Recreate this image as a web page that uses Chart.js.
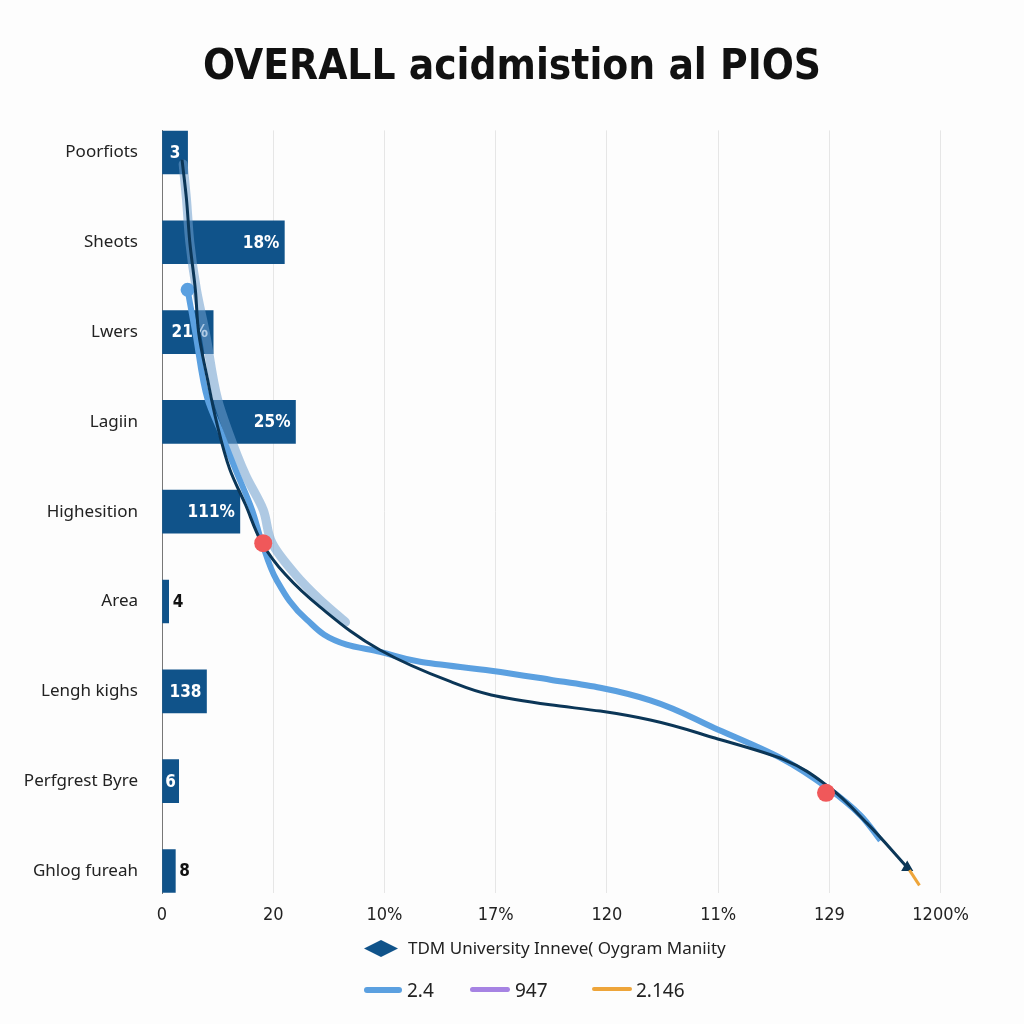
<!DOCTYPE html>
<html>
<head>
<meta charset="utf-8">
<script src="https://cdn.jsdelivr.net/npm/chart.js@4.4.0/dist/chart.umd.min.js"></script>
<style>
  body { margin: 0; background: #fdfdfd; }
  #wrap { position: relative; width: 1024px; height: 1024px; }
  #legend { position: absolute; left: 0; top: 0; width: 1024px; height: 1024px; pointer-events: none;
            font-family: 'Noto Sans', sans-serif; color: #222; }
  #legend span, #legend i { position: absolute; display: block; }
</style>
</head>
<body>
<div id="wrap">
  <canvas id="myChart" width="1024" height="1024"></canvas>
  <div id="legend"></div>
</div>
<script>
var titleText = 'OVERALL acidmistion al PIOS';
var categories = ['Poorfiots', 'Sheots', 'Lwers', 'Lagiin', 'Highesition', 'Area', 'Lengh kighs', 'Perfgrest Byre', 'Ghlog fureah'];
var barValues = [0.23, 1.1, 0.46, 1.2, 0.7, 0.06, 0.4, 0.15, 0.12];
var barLabels = ['3', '18%', '21%', '25%', '111%', '4', '138', '6', '8'];
var xTickLabels = ['0', '20', '10%', '17%', '120', '11%', '129', '1200%'];
var legendNames = ['TDM University Inneve( Oygram Maniity', '2.4', '947', '2.146'];

// curves, in axis units (x along the value axis, y along the row index)
var paleX = [0.19, 0.22, 0.25, 0.31, 0.39, 0.5, 0.59, 0.75, 0.91, 0.99, 1.2, 1.42, 1.65];
var paleY = [0.13, 0.52, 1.0, 1.53, 2.01, 2.75, 3.09, 3.59, 3.98, 4.35, 4.7, 4.98, 5.23];
var brightX = [0.23, 0.3, 0.41, 0.52, 0.66, 0.81, 0.9, 1.03, 1.3, 1.66, 1.96, 2.32, 2.96, 3.49, 3.94, 4.39, 4.97, 5.56, 5.99, 6.28, 6.46];
var brightY = [1.53, 2.01, 2.75, 3.09, 3.53, 3.98, 4.35, 4.76, 5.2, 5.48, 5.56, 5.67, 5.77, 5.87, 5.96, 6.1, 6.41, 6.74, 7.08, 7.38, 7.66];
var darkX = [0.18, 0.22, 0.25, 0.3, 0.33, 0.41, 0.49, 0.61, 0.75, 0.9, 1.11, 1.42, 1.96, 2.59, 2.96, 3.49, 3.94, 4.39, 4.97, 5.59, 5.99, 6.34, 6.7];
var darkY = [0.08, 0.52, 1.0, 1.53, 2.01, 2.53, 3.0, 3.53, 3.92, 4.35, 4.7, 5.06, 5.54, 5.89, 6.04, 6.15, 6.22, 6.32, 6.52, 6.76, 7.06, 7.47, 7.96];
var orangeX = [6.72, 6.81];
var orangeY = [7.99, 8.16];
var dotX = [0.91, 5.97];
var dotY = [4.35, 7.13];

function pts(xs, ys) {
    return xs.map(function (x, i) { return { x: x, y: ys[i] }; });
}

var labelPlugin = {
    id: 'barLabels',
    afterDatasetDraw: function (chart, args) {
        if (args.index !== 0) return;
        var c = chart.ctx;
        c.save();
        c.font = 'bold 17px "DejaVu Sans Condensed", Roboto, sans-serif';
        c.textBaseline = 'middle';
        args.meta.data.forEach(function (bar, i) {
            var t = barLabels[i];
            var w = c.measureText(t).width;
            var bw = bar.x - bar.base;
            if (w + 4 > bw) {
                c.fillStyle = '#111';
                c.textAlign = 'left';
                c.fillText(t, bar.x + 4, bar.y + 1);
            } else if (bw < 40) {
                c.fillStyle = '#fff';
                c.textAlign = 'center';
                c.fillText(t, (bar.x + bar.base) / 2, bar.y + 1);
            } else {
                c.fillStyle = '#fff';
                c.textAlign = 'right';
                c.fillText(t, bar.x - 5, bar.y + 1);
            }
        });
        c.restore();
    }
};

window.onload = function () {
    graficos();
    legenda();
}

function graficos() {
    var ctx = document.getElementById('myChart');

    var myChart = new Chart(ctx, {
        type: 'bar',
        data: {
            datasets: [{
                type: 'bar',
                label: legendNames[0],
                data: barValues.map(function (v, i) { return { x: v, y: i }; }),
                backgroundColor: '#10538a',
                barThickness: 43,
                indexAxis: 'y',
                order: 10
            }, {
                type: 'scatter',
                label: 'pale',
                data: pts(paleX, paleY),
                showLine: true,
                borderColor: 'rgba(110, 158, 205, 0.55)',
                borderWidth: 9,
                borderCapStyle: 'round',
                cubicInterpolationMode: 'monotone',
                pointRadius: 0,
                order: 4
            }, {
                type: 'scatter',
                label: legendNames[1],
                data: pts(brightX, brightY),
                showLine: true,
                borderColor: '#5ba0e0',
                backgroundColor: '#5ba0e0',
                borderWidth: 6,
                cubicInterpolationMode: 'monotone',
                pointRadius: function (c) { return c.dataIndex === 0 ? 4 : 0; },
                order: 3
            }, {
                type: 'scatter',
                label: 'dark',
                data: pts(darkX, darkY),
                showLine: true,
                borderColor: '#0b3657',
                backgroundColor: '#0b3657',
                borderWidth: 3,
                cubicInterpolationMode: 'monotone',
                pointRadius: function (c) { return c.dataIndex === darkX.length - 1 ? 4 : 0; },
                pointStyle: 'triangle',
                order: 2
            }, {
                type: 'scatter',
                label: legendNames[3],
                data: pts(orangeX, orangeY),
                showLine: true,
                borderColor: '#eea53a',
                borderWidth: 3,
                pointRadius: 0,
                order: 1
            }, {
                type: 'scatter',
                label: 'dots',
                data: pts(dotX, dotY),
                backgroundColor: '#f0585a',
                borderWidth: 0,
                pointRadius: 9,
                order: 0
            }]
        },
        options: {
            responsive: false,
            animation: false,
            indexAxis: 'y',
            layout: { padding: 0 },
            plugins: {
                legend: { display: false },
                tooltip: { enabled: false },
                title: {
                    display: true,
                    text: titleText,
                    color: '#111',
                    font: { family: '"DejaVu Sans Condensed", "DejaVu Sans", sans-serif', size: 42, weight: 'bold', lineHeight: 1.2 },
                    padding: { top: 43, bottom: 37 }
                }
            },
            scales: {
                x: {
                    type: 'linear',
                    min: 0,
                    max: 7.66,
                    offset: false,
                    afterFit: function (s) { s.height = 131; },
                    afterBuildTicks: function (s) {
                        s.ticks = xTickLabels.map(function (t, i) { return { value: i }; });
                    },
                    border: { display: false },
                    grid: { color: '#e6e6e6', drawTicks: false },
                    ticks: {
                        padding: 12,
                        color: '#222',
                        font: { family: '"DejaVu Sans Condensed", "Noto Sans", sans-serif', size: 18 },
                        callback: function (v) { return xTickLabels[v]; }
                    }
                },
                y: {
                    type: 'linear',
                    reverse: true,
                    offset: false,
                    min: -0.245,
                    max: 8.245,
                    afterFit: function (s) { s.width = 162; },
                    afterBuildTicks: function (s) {
                        s.ticks = categories.map(function (c, i) { return { value: i }; });
                    },
                    border: { display: true, color: '#777', width: 1 },
                    grid: { display: false, drawTicks: false },
                    ticks: {
                        padding: 24,
                        color: '#222',
                        font: { family: '"Noto Sans", sans-serif', size: 17 },
                        callback: function (v) { return categories[v]; }
                    }
                }
            }
        },
        plugins: [labelPlugin]
    });
}

function legenda() {
    var box = document.getElementById('legend');
    var html = '';
    html += '<svg style="position:absolute;left:364px;top:940px" width="34" height="17"><polygon points="0,8.5 17,0 34,8.5 17,17" fill="#10538a"/></svg>';
    html += '<span style="left:408px;top:936px;font-size:17px;line-height:24px">' + legendNames[0] + '</span>';
    html += '<i style="left:364px;top:987px;width:38px;height:6px;border-radius:3px;background:#5ba0e0"></i>';
    html += '<span style="left:407px;top:978px;font-size:19px;line-height:24px">' + legendNames[1] + '</span>';
    html += '<i style="left:470px;top:987px;width:40px;height:5px;border-radius:3px;background:#a683e3"></i>';
    html += '<span style="left:515px;top:978px;font-size:19px;line-height:24px">' + legendNames[2] + '</span>';
    html += '<i style="left:592px;top:987px;width:40px;height:4px;border-radius:2px;background:#eea53a"></i>';
    html += '<span style="left:636px;top:978px;font-size:19px;line-height:24px">' + legendNames[3] + '</span>';
    box.innerHTML = html;
}
</script>
</body>
</html>
